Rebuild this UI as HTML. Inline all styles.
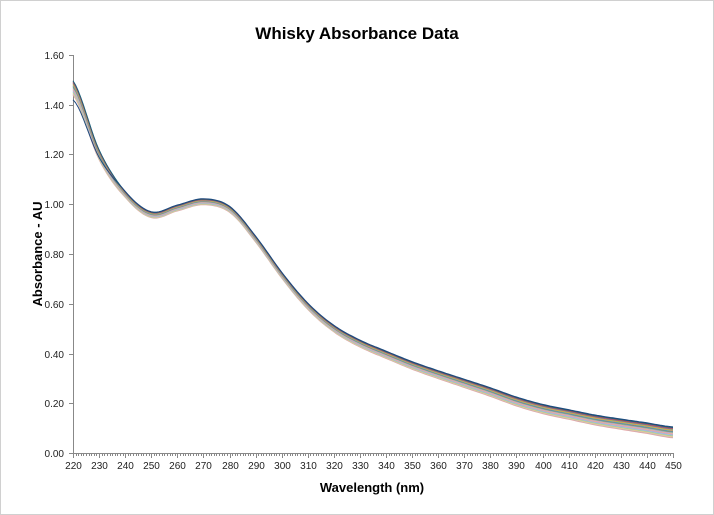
<!DOCTYPE html><html><head><style>body{margin:0;background:#fff}svg{display:block}text{font-family:"Liberation Sans",sans-serif}</style></head><body>
<svg id="s" width="714" height="515" xmlns="http://www.w3.org/2000/svg">
<rect x="0.5" y="0.5" width="713" height="514" fill="#fff" stroke="#d0d0d0"/>
<text x="357" y="39" text-anchor="middle" font-size="17" font-weight="bold">Whisky Absorbance Data</text>
<text x="372" y="492" text-anchor="middle" font-size="13" font-weight="bold">Wavelength (nm)</text>
<text transform="translate(42,254) rotate(-90)" text-anchor="middle" font-size="13" font-weight="bold">Absorbance - AU</text>
<g id="ax" stroke="#888" stroke-width="1"></g>
<g id="lab" font-size="10" fill="#222"></g>
<g id="cv" fill="none" stroke-width="1"></g>
</svg>
<script>
var X0=73,X1=673,Y0=453,S=248.75;
function px(w){return X0+(w-220)*(X1-X0)/230}
function py(a){return Y0-a*S}
var ax=document.getElementById('ax'),lab=document.getElementById('lab'),cv=document.getElementById('cv'),h='',l='';
h+='<line x1="'+X0+'.5" y1="55" x2="'+X0+'.5" y2="'+Y0+'"/><line x1="'+X0+'" y1="'+(Y0+.5)+'" x2="'+X1+'" y2="'+(Y0+.5)+'"/>';
for(var i=0;i<=8;i++){var y=Math.round(py(i*0.2))+.5;h+='<line x1="69" x2="73" y1="'+y+'" y2="'+y+'"/>';l+='<text x="64" y="'+(y+3.5)+'" text-anchor="end">'+(i*0.2).toFixed(2)+'</text>';}
for(var w=220;w<=450;w++){var x=Math.round(px(w))+.5;h+='<line x1="'+x+'" x2="'+x+'" y1="'+Y0+'" y2="'+(Y0+(w%10?3:5))+'"/>';if(w%10==0)l+='<text x="'+x+'" y="'+(Y0+16)+'" text-anchor="middle">'+w+'</text>';}
ax.innerHTML=h;lab.innerHTML=l;
var K=[[220,1.47],[230,1.20],[240,1.04],[250,0.958],[260,0.985],[270,1.01],[280,0.98],[290,0.86],[300,0.715],[310,0.59],[320,0.5],[330,0.44],[340,0.395],[350,0.352],[360,0.315],[370,0.28],[380,0.245],[390,0.207],[400,0.177],[410,0.155],[420,0.133],[430,0.116],[440,0.1],[450,0.083]];
function f(w){var n=K.length;for(var i=0;i<n-1;i++){if(w<=K[i+1][0]){var p0=K[Math.max(i-1,0)][1],p1=K[i][1],p2=K[i+1][1],p3=K[Math.min(i+2,n-1)][1];var t=(w-K[i][0])/10;
return 0.5*((2*p1)+(-p0+p2)*t+(2*p0-5*p1+4*p2-p3)*t*t+(-p0+3*p1-3*p2+p3)*t*t*t)}}return K[n-1][1]}
var cols=['#e7a0a0','#c0c0c0','#f5c890','#a8d08d','#9dc3e6','#b4a7d6','#f4b183','#c9a0dc','#8fbc8f','#7f7f7f','#4bacc6','#f79646','#9bbb59','#8064a2','#c0504d','#17607a','#1f497d'];
var o='';
cols.forEach(function(c,k){var d=(k-8)/8;var p=[];for(var w=220;w<=450;w+=1){var a=f(w);var s;
if(w<240)s=d*0.03*(240-w)/20+d*0.012*(w-220)/20;else if(w<300)s=d*0.012;else s=d*0.012+d*0.01*(w-300)/150;
a+=s;if(k==16&&w<240)a-=0.08*Math.pow((240-w)/20,1.3);
p.push(px(w).toFixed(1)+','+py(a).toFixed(1));}
o+='<polyline stroke="'+c+'" points="'+p.join(' ')+'"/>';});
cv.innerHTML=o;
</script></body></html>
